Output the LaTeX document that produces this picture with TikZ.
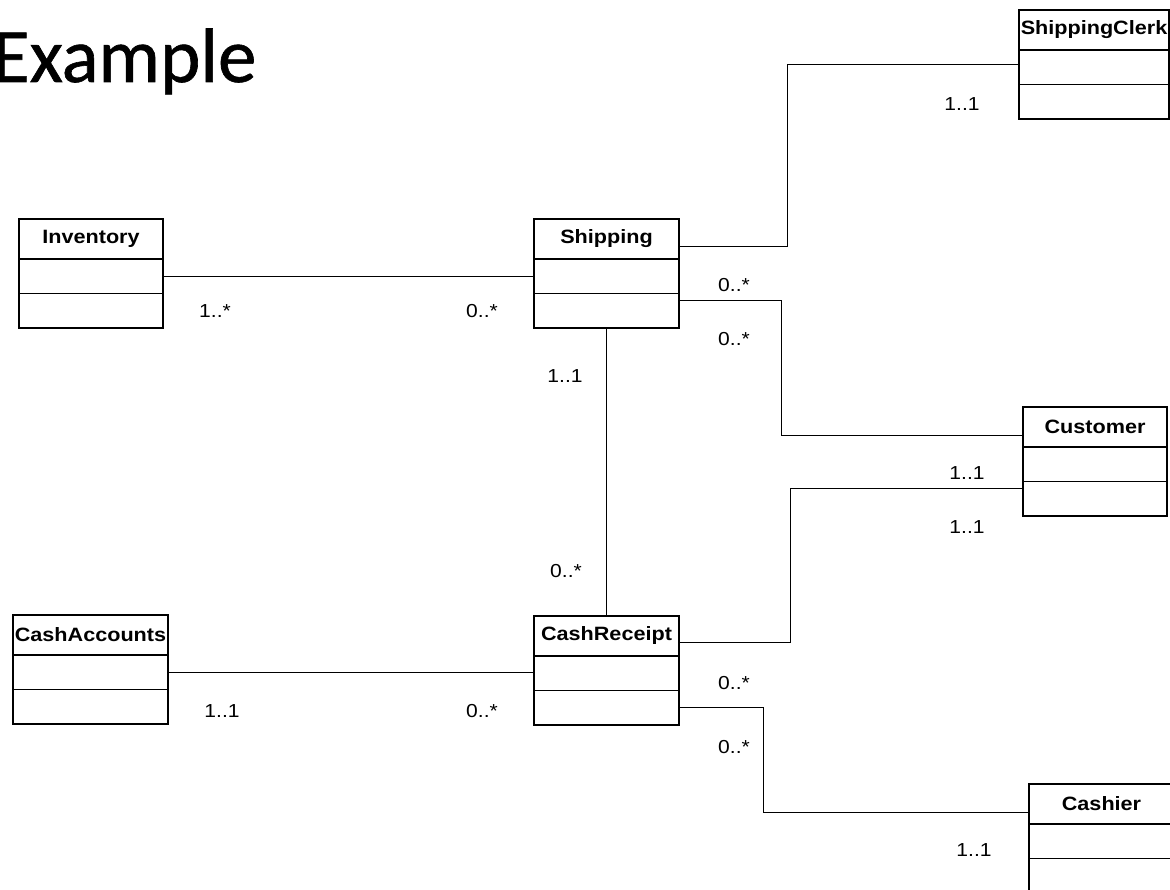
\documentclass[tikz,border=0pt]{standalone}
\usepackage{fontspec}
\setmainfont[FakeStretch=1.12]{Liberation Sans}
\newfontfamily\titlefont[FakeBold=0.8]{Carlito}
\usetikzlibrary{positioning}
\begin{document}
\begin{tikzpicture}[x=1pt,y=-1pt,
    box/.style={draw, line width=1.4pt, inner sep=0pt, outer sep=0pt, minimum width=#1},
    head/.style={box=#1, minimum height=40pt, font=\bfseries\fontsize{19.3}{21}\selectfont},
    part/.style={box=#1, minimum height=34.5pt},
    link/.style={line width=1pt},
    mult/.style={font=\fontsize{18.8}{20}\selectfont}]
  \useasboundingbox (0,0) rectangle (1170,890);
  \clip (0,0) rectangle (1170,890);
  \node[anchor=base east, font=\titlefont\fontsize{77}{80}\selectfont] (title) at (260,82) {Example};
  % classes
  \node[head=144pt, anchor=north west] (inv) at (19,219) {Inventory};
  \node[part=144pt, below=0pt of inv] (inv-a) {};
  \node[part=144pt, below=0pt of inv-a] (inv-o) {};
  \node[head=145pt, anchor=north west] (ship) at (534,219) {Shipping};
  \node[part=145pt, below=0pt of ship] (ship-a) {};
  \node[part=145pt, below=0pt of ship-a] (ship-o) {};
  \node[head=150pt, anchor=north west] (clerk) at (1019,10) {ShippingClerk};
  \node[part=150pt, below=0pt of clerk] (clerk-a) {};
  \node[part=150pt, below=0pt of clerk-a] (clerk-o) {};
  \node[head=144pt, anchor=north west] (cust) at (1023,407) {Customer};
  \node[part=144pt, below=0pt of cust] (cust-a) {};
  \node[part=144pt, below=0pt of cust-a] (cust-o) {};
  \node[head=155pt, anchor=north west] (acc) at (13,615) {CashAccounts};
  \node[part=155pt, below=0pt of acc] (acc-a) {};
  \node[part=155pt, below=0pt of acc-a] (acc-o) {};
  \node[head=145pt, anchor=north west] (rec) at (534,616) {CashReceipt};
  \node[part=145pt, below=0pt of rec] (rec-a) {};
  \node[part=145pt, below=0pt of rec-a] (rec-o) {};
  \node[head=145pt, anchor=north west] (cash) at (1029,784) {Cashier};
  \node[part=145pt, below=0pt of cash] (cash-a) {};
  \node[part=145pt, below=0pt of cash-a] (cash-o) {};
  % associations
  \draw[link] (inv-a.east) -- (inv-a.east -| ship-a.west);
  \draw[link] ([yshift=-8pt]ship.east) -| ([xshift=-232pt,yshift=3pt]clerk-a.west) -- ([yshift=3pt]clerk-a.west);
  \draw[link] ([yshift=-7pt]ship-o.north east) -| ([xshift=-242pt,yshift=-8pt]cust.west) -- ([yshift=-8pt]cust.west);
  \draw[link] (ship-o.south) -- (rec.north);
  \draw[link] ([yshift=-6pt]rec.east) -| ([xshift=-233pt,yshift=-7pt]cust-o.north west) -- ([yshift=-7pt]cust-o.north west);
  \draw[link] (rec-o.east) -| ([xshift=-266pt,yshift=-8pt]cash.west) -- ([yshift=-8pt]cash.west);
  \draw[link] (acc-a.east) -- (acc-a.east -| rec-a.west);
  % multiplicities
  \node[mult] (m1) at (962,104) {1..1};
  \node[mult] (m2) at (215,311) {1..*};
  \node[mult] (m3) at (482,311) {0..*};
  \node[mult] (m4) at (734,285) {0..*};
  \node[mult] (m5) at (734,339) {0..*};
  \node[mult] (m6) at (565,376) {1..1};
  \node[mult] (m7) at (566,571) {0..*};
  \node[mult] (m8) at (967,473) {1..1};
  \node[mult] (m9) at (967,527) {1..1};
  \node[mult] (m10) at (222,711) {1..1};
  \node[mult] (m11) at (482,711) {0..*};
  \node[mult] (m12) at (734,683) {0..*};
  \node[mult] (m13) at (734,747) {0..*};
  \node[mult] (m14) at (974,850) {1..1};
\end{tikzpicture}
\end{document}
